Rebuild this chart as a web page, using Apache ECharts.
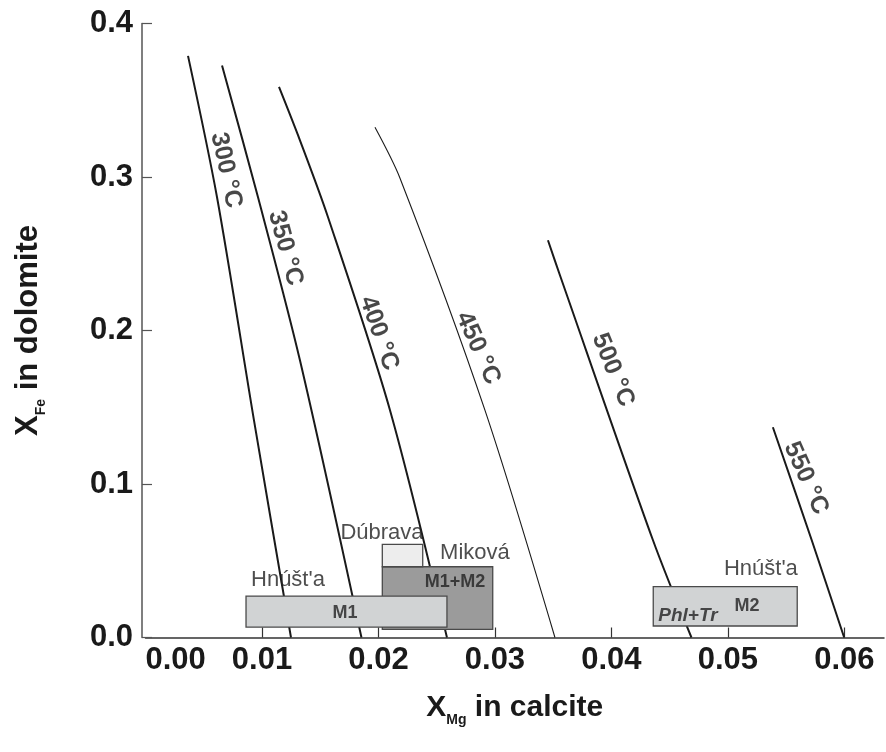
<!DOCTYPE html>
<html>
<head>
<meta charset="utf-8">
<script src="https://cdn.jsdelivr.net/npm/echarts@6/dist/echarts.min.js"></script>
<style>
html,body{margin:0;padding:0;background:#fff;}
#chart{width:886px;height:752px;}
</style>
</head>
<body>
<div id="chart"></div>
<script>
// ---- data ----
var xLabelValues = [0, 0.01, 0.02, 0.03, 0.04, 0.05, 0.06];
var xTickValues = [0.01, 0.02, 0.03, 0.04, 0.05, 0.06];
var yTickValues = [0, 0.1, 0.2, 0.3, 0.4];

var iso300 = [[0.00365, 0.3789], [0.00614, 0.2868], [0.00931, 0.1416], [0.01249, 0]];
var iso350 = [[0.00657, 0.3727], [0.00966, 0.2868], [0.01326, 0.1806], [0.01854, 0]];
var iso400 = [[0.01146, 0.3587], [0.01326, 0.3239], [0.01567, 0.2738], [0.02099, 0.1481], [0.02588, 0]];
var iso450 = [[0.01970, 0.3324], [0.02185, 0.2992], [0.02914, 0.1481], [0.03515, 0]];
var iso500 = [[0.03455, 0.2588], [0.03558, 0.2360], [0.04356, 0.0635], [0.04687, 0]];
var iso550 = [[0.05386, 0.1370], [0.05719, 0.0635], [0.05998, 0]];

var isoNames = ['300 °C', '350 °C', '400 °C', '450 °C', '500 °C', '550 °C'];
var isoLabelX = [0.00691, 0.01200, 0.02004, 0.02854, 0.04013, 0.05670];
var isoLabelY = [0.3044, 0.2536, 0.1982, 0.1885, 0.1742, 0.1038];

// boxes: Miková M1+M2, Dúbrava, Hnúšt'a M1, Hnúšt'a M2
var boxX0 = [0.02033, 0.02033, 0.00863, 0.04359];
var boxX1 = [0.02981, 0.02380, 0.02588, 0.05595];
var boxY0 = [0.0053, 0.0461, 0.0068, 0.0075];
var boxY1 = [0.0461, 0.0607, 0.0270, 0.0331];

var localityNames = ["Hnúšt'a", 'Dúbrava', 'Miková', "Hnúšt'a"];
var localityX = [0.01223, 0.02030, 0.02828, 0.05283];
var localityY = [0.0374, 0.0680, 0.0550, 0.0446];

var stageNames = ['M1+M2', 'M1', 'M2'];
var stageX = [0.02657, 0.01712, 0.05163];
var stageY = [0.0361, 0.0160, 0.0205];

var assemblageNames = ['Phl+Tr'];
var assemblageX = [0.04657];
var assemblageY = [0.0140];

// ---- styles ----
var FONT = "'Liberation Sans', Arial, Helvetica, sans-serif";
var boxFill = ['#9b9b9b', '#ededed', '#d1d3d4', '#d1d3d4'];
var isoWidth = [2, 2, 2, 1.1, 2, 2];
var isoRot = [-78, -75, -71, -66, -68, -66];

var isoData = [iso300, iso350, iso400, iso450, iso500, iso550];

var series = [];
isoData.forEach(function (d, i) {
  series.push({
    type: 'line', data: d, symbol: 'none', smooth: 0.3, silent: true, z: 2,
    lineStyle: { color: '#1a1a1a', width: isoWidth[i] }
  });
});

var boxData = boxX0.map(function (v, i) { return [boxX0[i], boxX1[i], boxY0[i], boxY1[i], i]; });
series.push({
  type: 'custom', z: 5, silent: true,
  data: boxData,
  encode: { x: [0, 1], y: [2, 3] },
  renderItem: function (params, api) {
    var p0 = api.coord([api.value(0), api.value(3)]);
    var p1 = api.coord([api.value(1), api.value(2)]);
    return {
      type: 'rect',
      shape: { x: p0[0], y: p0[1], width: p1[0] - p0[0], height: p1[1] - p0[1] },
      style: { fill: boxFill[api.value(4)], stroke: '#4a4a4a', lineWidth: 1.3 }
    };
  }
});

function textSeries(names, xs, ys, labelStyle, rots) {
  return {
    type: 'scatter', z: 10, silent: true, symbolSize: 1,
    itemStyle: { color: 'rgba(0,0,0,0)' },
    data: names.map(function (n, i) {
      var item = { value: [xs[i], ys[i]], name: n };
      if (rots) item.label = { rotate: rots[i] };
      return item;
    }),
    label: Object.assign({
      show: true, position: 'inside', align: 'center', verticalAlign: 'middle',
      formatter: function (p) { return p.name; }, fontFamily: FONT, color: '#1a1a1a'
    }, labelStyle)
  };
}

series.push(textSeries(isoNames, isoLabelX, isoLabelY, { fontSize: 25, fontWeight: 'bold' }, isoRot));
series.push(textSeries(localityNames, localityX, localityY, { fontSize: 22, fontWeight: 'normal', color: '#222' }));
series.push(textSeries(stageNames, stageX, stageY, { fontSize: 18, fontWeight: 'bold', color: '#222' }));
series.push(textSeries(assemblageNames, assemblageX, assemblageY, { fontSize: 19, fontWeight: 'bold', fontStyle: 'italic', color: '#222' }));

var chart = echarts.init(document.getElementById('chart'), null, { renderer: 'canvas' });
chart.setOption({
  animation: false,
  backgroundColor: '#ffffff',
  grid: { left: 145.5, right: 2, top: 23.5, bottom: 114.5, containLabel: false },
  xAxis: {
    type: 'value', min: 0, max: 0.0634,
    name: '{x|X}{sub|Mg}{x| in calcite}',
    nameLocation: 'middle', nameGap: 50,
    nameTextStyle: {
      rich: {
        x: { fontSize: 30, fontWeight: 'bold', fontFamily: FONT, color: '#1a1a1a', lineHeight: 40, verticalAlign: 'middle' },
        sub: { fontSize: 14, fontWeight: 'bold', fontFamily: FONT, color: '#1a1a1a', lineHeight: 16, verticalAlign: 'bottom' }
      }
    },
    axisLine: { show: true, onZero: false, lineStyle: { color: '#333', width: 1.5 } },
    axisTick: { show: true, inside: true, length: 10, customValues: xTickValues, lineStyle: { color: '#333', width: 1.2 } },
    axisLabel: {
      customValues: xLabelValues, alignMinLabel: 'left',
      formatter: function (v) { return v.toFixed(2); },
      fontSize: 31, fontWeight: 'bold', fontFamily: FONT, color: '#1a1a1a', margin: 7
    },
    splitLine: { show: false }
  },
  yAxis: {
    type: 'value', min: 0, max: 0.4, interval: 0.1, offset: 3.5,
    name: '{x|X}{sub|Fe}{x| in dolomite}',
    nameLocation: 'middle', nameGap: 94, nameRotate: 90,
    nameTextStyle: {
      rich: {
        x: { fontSize: 31, fontWeight: 'bold', fontFamily: FONT, color: '#1a1a1a', lineHeight: 40, verticalAlign: 'middle' },
        sub: { fontSize: 14, fontWeight: 'bold', fontFamily: FONT, color: '#1a1a1a', lineHeight: 16, verticalAlign: 'bottom' }
      }
    },
    axisLine: { show: true, onZero: false, lineStyle: { color: '#555', width: 1.5 } },
    axisTick: { show: true, inside: true, length: 10, customValues: yTickValues, lineStyle: { color: '#555', width: 1.2 } },
    axisLabel: {
      formatter: function (v) { return v.toFixed(1); },
      fontSize: 31, fontWeight: 'bold', fontFamily: FONT, color: '#1a1a1a', margin: 9
    },
    splitLine: { show: false }
  },
  series: series
});
</script>
</body>
</html>
